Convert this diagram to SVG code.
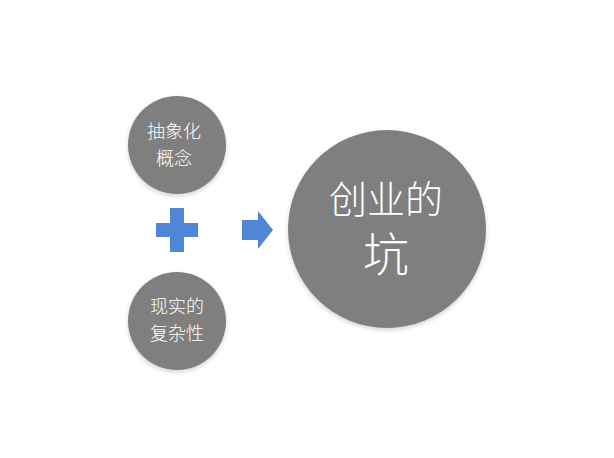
<svg xmlns="http://www.w3.org/2000/svg" width="614" height="458" viewBox="0 0 614 458">
  <style>
    .disc { fill: #7f7f7f; filter: url(#soft); }
    .lbl { fill: #ffffff; font-family: "Noto Sans CJK SC", "Noto Sans", sans-serif; font-weight: 300; text-anchor: middle; }
    .sm { font-size: 18px; }
    .big { font-size: 38px; }
    .huge { font-size: 46px; }
    .sym { fill: #4f87d6; }
  </style>
  <defs>
    <filter id="soft" x="-20%" y="-20%" width="140%" height="145%">
      <feGaussianBlur in="SourceAlpha" stdDeviation="2"/>
      <feOffset dy="2" result="b"/>
      <feFlood flood-color="#000" flood-opacity="0.18"/>
      <feComposite in2="b" operator="in"/>
      <feMerge><feMergeNode/><feMergeNode in="SourceGraphic"/></feMerge>
    </filter>
  </defs>
  <rect width="614" height="458" fill="#ffffff"/>

  <g id="abstract">
    <circle class="disc" cx="177" cy="145" r="49"/>
    <text class="lbl sm" x="174" y="138">抽象化</text>
    <text class="lbl sm" x="174" y="164.7">概念</text>
  </g>

  <g id="reality">
    <circle class="disc" cx="177" cy="321" r="49"/>
    <text class="lbl sm" x="177" y="313">现实的</text>
    <text class="lbl sm" x="177" y="339.7">复杂性</text>
  </g>

  <g id="pitfall">
    <circle class="disc" cx="387" cy="229" r="99"/>
    <text class="lbl big" x="386" y="213">创业的</text>
    <text class="lbl huge" x="386" y="271">坑</text>
  </g>

  <g id="connectors">
    <path class="sym" d="M170 208 H184 V223 H198 V237 H184 V252 H170 V237 H156 V223 H170 Z"/>
    <path class="sym" d="M242 220 H258 V211 L273 230 L258 249 V240 H242 Z"/>
  </g>
</svg>
